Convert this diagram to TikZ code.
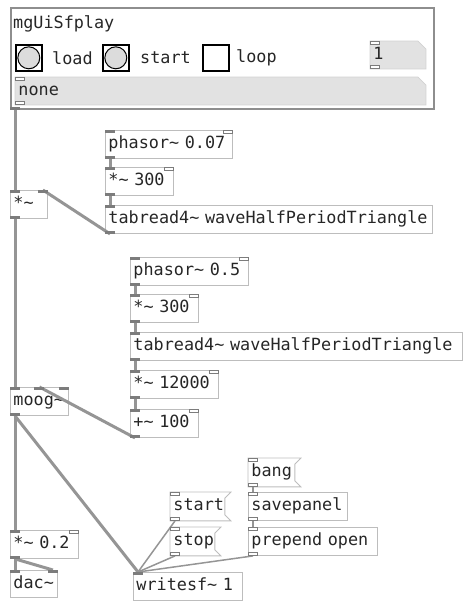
\documentclass[tikz,border=0pt]{standalone}
\usepackage{fontspec}
\newfontfamily\pdmono{DejaVu Sans Mono}
\usetikzlibrary{calc,backgrounds}
\definecolor{boxgray}{HTML}{BDBDBD}
\definecolor{iogray}{HTML}{7C7C7C}
\definecolor{wiregray}{HTML}{959595}
\definecolor{gopgray}{HTML}{8E8E8E}
\definecolor{atomfill}{HTML}{E2E2E2}
\definecolor{atomline}{HTML}{D2D2D2}
\definecolor{bnggray}{HTML}{DCDCDC}
\definecolor{txt}{HTML}{262626}
\newcommand\pdtl{\textasciitilde}
\newcommand\pdsigin[2]{\fill[sigio] ($(#1.north west)+(#2,0)$) rectangle +(10,3);}
\newcommand\pdsigout[2]{\fill[sigio] ($(#1.south west)+(#2,0)$) rectangle +(10,-3);}
\newcommand\pdctlin[2]{\filldraw[ctlio] ($(#1.north west)+(#2+0.4,0.4)$) rectangle +(9.2,3);}
\newcommand\pdctlout[2]{\filldraw[ctlio] ($(#1.south west)+(#2+0.4,-0.4)$) rectangle +(9.2,-3);}
\newcommand\pdsiginR[1]{\fill[sigio] ($(#1.north east)+(-10,0)$) rectangle +(10,3);}
\newcommand\pdctlinR[1]{\filldraw[ctlio] ($(#1.north east)+(-9.6,0.4)$) rectangle +(9.2,3);}
\newcommand\pdflag[1]{\draw[msgshape] (#1.north west) -- ($(#1.north east)+(6,0)$) -- ($(#1.north east)+(0,6)$) -- ($(#1.south east)+(0,-6)$) -- ($(#1.south east)+(6,0)$) -- (#1.south west) -- cycle;}
\tikzset{
 pdtext/.style={font=\pdmono\fontsize{16.8}{18}\selectfont, text=txt},
 obj/.style={pdtext, draw=boxgray, line width=0.9pt, anchor=north west, minimum height=28pt, inner xsep=3pt, inner ysep=0pt, text height=11.5pt, text depth=3pt, align=left},
 msg/.style={obj, draw=none},
 atom/.style={obj, draw=none, minimum height=27pt},
 msgshape/.style={draw=boxgray, line width=0.9pt},
 sigio/.style={fill=iogray},
 ctlio/.style={draw=iogray, fill=white, line width=0.8pt},
 sig/.style={draw=wiregray, line width=3pt},
 ctl/.style={draw=wiregray, line width=1.5pt},
 lbl/.style={pdtext, anchor=west, inner sep=0pt},
 bngbox/.style={draw=black, line width=1.6pt, fill=white, anchor=north west, minimum size=26pt, inner sep=0pt},
}
\begin{document}
\begin{tikzpicture}[x=1pt,y=-1pt]
\useasboundingbox (0,0) rectangle (465,614);
% ---- GOP abstraction
\node[draw=gopgray, line width=1.6pt, anchor=north west, minimum width=423pt, minimum height=101pt, inner sep=0pt] (gop) at (10,7) {};
\node[lbl] (title) at (13,24) {mgUiSfplay};
\node[bngbox] (bngload) at (15,44) {};
\draw[fill=bnggray, line width=1pt] (bngload.center) circle (11);
\node[lbl] (lload) at (52,58) {load};
\node[bngbox] (bngstart) at (102,44) {};
\draw[fill=bnggray, line width=1pt] (bngstart.center) circle (11);
\node[lbl] (lstart) at (140,58) {start};
\node[bngbox] (tgl) at (202,44) {};
\node[lbl] (lloop) at (236,58) {loop};
\node[atom, text width=49pt] (num) at (370,41) {1};
\node[atom, text width=404pt] (sym) at (15,77) {none};
\begin{scope}[on background layer]
\filldraw[fill=atomfill, draw=atomline, line width=0.8pt] (num.north west) -- ($(num.north east)+(-8,0)$) -- ($(num.north east)+(0,8)$) -- (num.south east) -- (num.south west) -- cycle;
\filldraw[fill=atomfill, draw=atomline, line width=0.8pt] (sym.north west) -- ($(sym.north east)+(-8,0)$) -- ($(sym.north east)+(0,8)$) -- (sym.south east) -- (sym.south west) -- cycle;
\end{scope}
% ---- objects
\node[obj, text width=121pt] (phA) at (105,130) {phasor\pdtl{} 0.07};
\node[obj, text width=62pt] (mulA) at (105,167) {*\pdtl{} 300};
\node[obj, text width=321pt] (tabA) at (105,205) {tabread4\pdtl{} waveHalfPeriodTriangle};
\node[obj, text width=31pt] (mul0) at (10,190) {*\pdtl};
\node[obj, text width=112pt] (phB) at (130,257) {phasor\pdtl{} 0.5};
\node[obj, text width=62pt] (mulB) at (130,294) {*\pdtl{} 300};
\node[obj, text width=326pt] (tabB) at (130,332) {tabread4\pdtl{} waveHalfPeriodTriangle};
\node[obj, text width=82pt] (mulC) at (130,370) {*\pdtl{} 12000};
\node[obj, text width=62pt] (addB) at (130,409) {+\pdtl{} 100};
\node[obj, text width=52pt] (moog) at (10,387) {moog\pdtl};
\node[obj, text width=62pt] (mulD) at (10,530) {*\pdtl{} 0.2};
\node[obj, text width=41pt, minimum height=27pt] (dac) at (10,570) {dac\pdtl};
\node[obj, text width=103pt] (wsf) at (133,572) {writesf\pdtl{} 1};
\node[msg, text width=40pt] (bang) at (248,458) {bang};
\node[msg, text width=48pt] (start) at (170,492) {start};
\node[msg, text width=38pt] (stop) at (170,527) {stop};
\node[obj, text width=93pt] (savep) at (248,492) {savepanel};
\node[obj, text width=123pt] (prep) at (248,527) {prepend open};
\pdflag{bang}
\pdflag{start}
\pdflag{stop}
% ---- wires
\draw[sig] ($(gop.south west)+(5,0)$) -- ($(mul0.north west)+(5,0)$);
\draw[sig] ($(mul0.south west)+(5,0)$) -- ($(moog.north west)+(5,0)$);
\draw[sig] ($(tabA.south west)+(5,0)$) -- ($(mul0.north east)+(-5,0)$);
\draw[sig] ($(phA.south west)+(5,0)$) -- ($(mulA.north west)+(5,0)$);
\draw[sig] ($(mulA.south west)+(5,0)$) -- ($(tabA.north west)+(5,0)$);
\draw[sig] ($(phB.south west)+(5,0)$) -- ($(mulB.north west)+(5,0)$);
\draw[sig] ($(mulB.south west)+(5,0)$) -- ($(tabB.north west)+(5,0)$);
\draw[sig] ($(tabB.south west)+(5,0)$) -- ($(mulC.north west)+(5,0)$);
\draw[sig] ($(mulC.south west)+(5,0)$) -- ($(addB.north west)+(5,0)$);
\draw[sig] ($(addB.south west)+(5,0)$) -- (moog.north);
\draw[sig] ($(moog.south west)+(5,0)$) -- ($(mulD.north west)+(5,0)$);
\draw[sig] ($(moog.south west)+(5,0)$) -- ($(wsf.north west)+(5,0)$);
\draw[sig] ($(mulD.south west)+(5,0)$) -- ($(dac.north west)+(5,0)$);
\draw[sig] ($(mulD.south west)+(5,0)$) -- ($(dac.north east)+(-5,0)$);
\draw[ctl] ($(start.south west)+(5,0)$) -- ($(wsf.north west)+(5,0)$);
\draw[ctl] ($(stop.south west)+(5,0)$) -- ($(wsf.north west)+(5,0)$);
\draw[ctl] ($(prep.south west)+(5,0)$) -- ($(wsf.north west)+(5,0)$);
\draw[ctl] ($(bang.south west)+(5,0)$) -- ($(savep.north west)+(5,0)$);
\draw[ctl] ($(savep.south west)+(5,0)$) -- ($(prep.north west)+(5,0)$);
% ---- iolets
\pdsigout{gop}{0}
\pdctlin{num}{0}\pdctlout{num}{0}
\pdctlin{sym}{0}\pdctlout{sym}{0}
\pdsigin{phA}{0}\pdctlinR{phA}\pdsigout{phA}{0}
\pdsigin{mulA}{0}\pdctlinR{mulA}\pdsigout{mulA}{0}
\pdsigin{tabA}{0}\pdsigout{tabA}{0}
\pdsigin{mul0}{0}\pdsiginR{mul0}\pdsigout{mul0}{0}
\pdsigin{phB}{0}\pdctlinR{phB}\pdsigout{phB}{0}
\pdsigin{mulB}{0}\pdctlinR{mulB}\pdsigout{mulB}{0}
\pdsigin{tabB}{0}\pdsigout{tabB}{0}
\pdsigin{mulC}{0}\pdctlinR{mulC}\pdsigout{mulC}{0}
\pdsigin{addB}{0}\pdctlinR{addB}\pdsigout{addB}{0}
\pdsigin{moog}{0}\pdsigin{moog}{24}\pdsiginR{moog}\pdsigout{moog}{0}
\pdsigin{mulD}{0}\pdctlinR{mulD}\pdsigout{mulD}{0}
\pdsigin{dac}{0}\pdsiginR{dac}
\pdsigin{wsf}{0}
\pdctlin{bang}{0}\pdctlout{bang}{0}
\pdctlin{start}{0}\pdctlout{start}{0}
\pdctlin{stop}{0}\pdctlout{stop}{0}
\pdctlin{savep}{0}\pdctlout{savep}{0}
\pdctlin{prep}{0}\pdctlout{prep}{0}
\end{tikzpicture}
\end{document}
